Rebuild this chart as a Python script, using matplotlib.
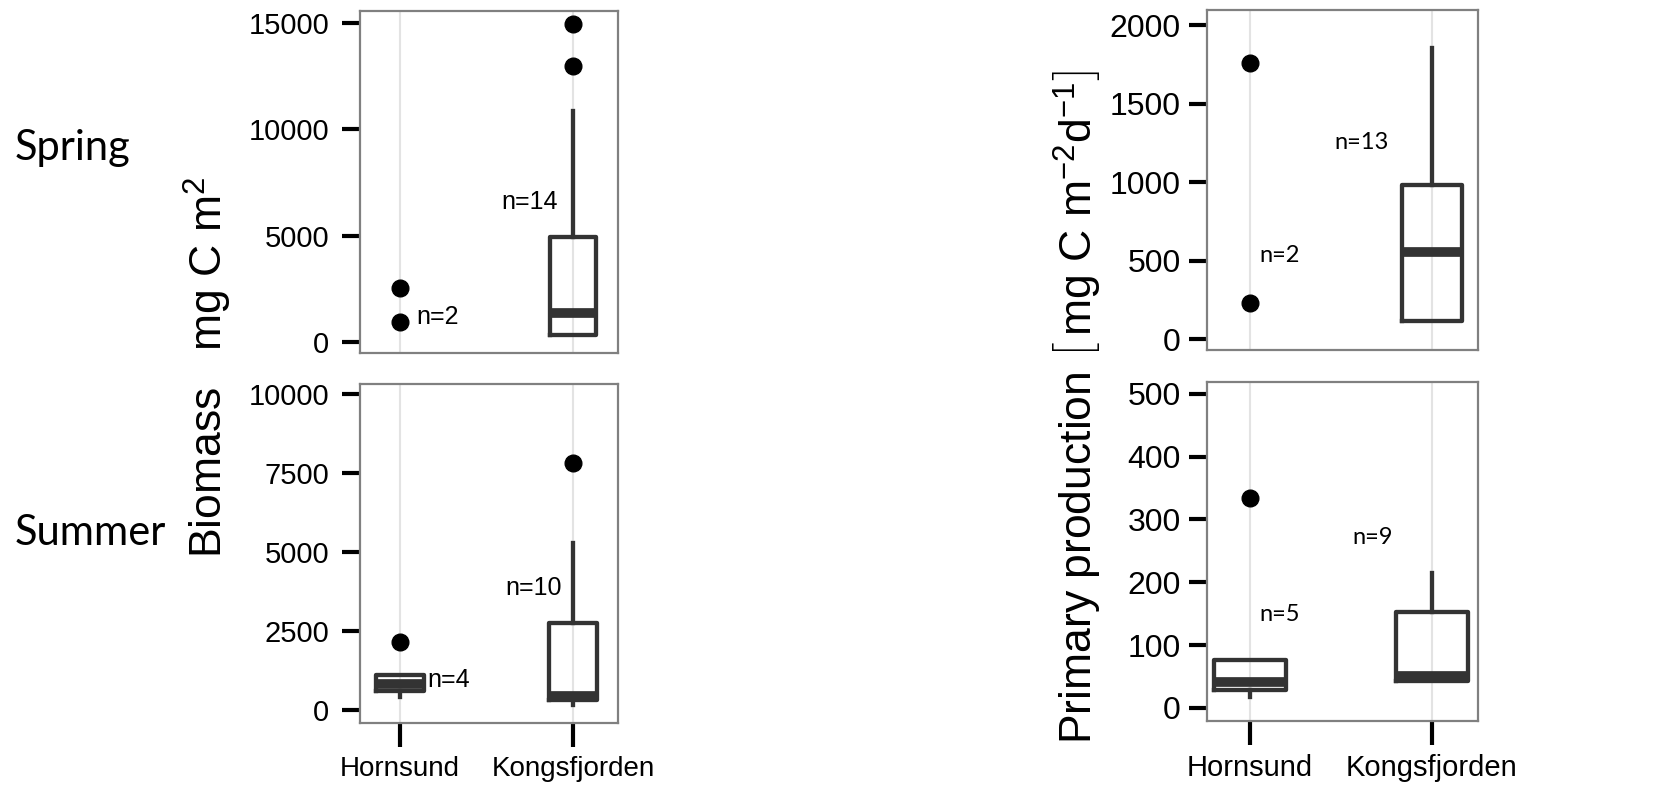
import matplotlib.pyplot as plt

plt.rcParams['font.family'] = ['Liberation Sans', 'DejaVu Sans']
plt.rcParams['mathtext.fontset'] = 'custom'
plt.rcParams['mathtext.rm'] = 'Liberation Sans'
plt.rcParams['mathtext.it'] = 'Liberation Sans:italic'

sites = ['Hornsund', 'Kongsfjorden']
positions = [1, 2]

# Biomass, spring (mg C m-2)
bio_spring_hornsund_pts = [2550, 940]
bio_spring_kong = dict(whislo=330, q1=330, med=1370, q3=4950, whishi=10850, fliers=[12970, 14950])
# Biomass, summer
bio_summer_hornsund = dict(whislo=410, q1=600, med=820, q3=1110, whishi=1110, fliers=[2150])
bio_summer_kong = dict(whislo=160, q1=320, med=440, q3=2750, whishi=5280, fliers=[7820])

# Primary production, spring (mg C m-2 d-1)
pp_spring_hornsund_pts = [1760, 230]
pp_spring_kong = dict(whislo=115, q1=115, med=554, q3=978, whishi=1853, fliers=[])
# Primary production, summer
pp_summer_hornsund = dict(whislo=17, q1=29, med=41, q3=76, whishi=76, fliers=[334])
pp_summer_kong = dict(whislo=43, q1=43, med=51, q3=153, whishi=215, fliers=[])

n_labels = {
    'bio_spring': [('n=2', 1.22, 1180), ('n=14', 1.75, 6560)],
    'bio_summer': [('n=4', 1.28, 950), ('n=10', 1.77, 3860)],
    'pp_spring': [('n=2', 1.165, 530), ('n=13', 1.615, 1255)],
    'pp_summer': [('n=5', 1.165, 148), ('n=9', 1.676, 272)],
}

box_col = '#333333'

fig = plt.figure(figsize=(16.68, 7.97), dpi=100)


def style_axis(ax, xlim, ylim, yticks, show_x, tick_fs, xtick_fs, pad):
    ax.set_xlim(*xlim)
    ax.set_ylim(*ylim)
    ax.set_yticks(yticks)
    ax.set_yticklabels([str(t) for t in yticks])
    ax.set_xticks(positions)
    for x in positions:
        ax.axvline(x, color='#e3e3e3', lw=1.5, zorder=0)
    for s in ax.spines.values():
        s.set_color('#808080')
        s.set_linewidth(1.6)
    ax.tick_params(axis='y', length=13, width=3, labelsize=tick_fs, pad=pad, color='black')
    if show_x:
        ax.set_xticklabels(sites)
        ax.tick_params(axis='x', length=17, width=3, labelsize=xtick_fs, pad=7)
    else:
        ax.tick_params(axis='x', length=0, labelbottom=False)


def draw_boxes(ax, stats, pos, width):
    ax.bxp(stats, positions=pos, widths=width, showcaps=False,
           boxprops=dict(color=box_col, lw=3.1),
           whiskerprops=dict(color=box_col, lw=3.1),
           medianprops=dict(color=box_col, lw=7, solid_capstyle='butt'),
           flierprops=dict(marker='o', markerfacecolor='black', markeredgecolor='black',
                           markersize=12, linestyle='none'),
           manage_ticks=False)


def draw_n(ax, key, font, fs):
    for txt, x, y in n_labels[key]:
        ax.text(x, y, txt, ha='center', va='center', fontsize=fs, family=font)


# Left top: biomass spring
ax1 = fig.add_axes([360 / 1668, 1 - 353 / 797, 258 / 1668, 342 / 797])
style_axis(ax1, (0.769, 2.26), (-519, 15566), [0, 5000, 10000, 15000], False, 21, 20, 9)
ax1.plot([1] * len(bio_spring_hornsund_pts), bio_spring_hornsund_pts, 'o', color='black', markersize=12)
draw_boxes(ax1, [bio_spring_kong], [2], 0.27)
draw_n(ax1, 'bio_spring', 'Liberation Sans', 18)

# Left bottom: biomass summer
ax2 = fig.add_axes([360 / 1668, 1 - 723 / 797, 258 / 1668, 339 / 797])
style_axis(ax2, (0.769, 2.26), (-411, 10316), [0, 2500, 5000, 7500, 10000], True, 21, 20, 9)
draw_boxes(ax2, [bio_summer_hornsund, bio_summer_kong], [1, 2], 0.28)
draw_n(ax2, 'bio_summer', 'Liberation Sans', 18)

# Right top: primary production spring
ax3 = fig.add_axes([1207 / 1668, 1 - 350 / 797, 271 / 1668, 340 / 797])
style_axis(ax3, (0.764, 2.253), (-70, 2096), [0, 500, 1000, 1500, 2000], False, 23, 21, 6)
ax3.plot([1] * len(pp_spring_hornsund_pts), pp_spring_hornsund_pts, 'o', color='black', markersize=12)
draw_boxes(ax3, [pp_spring_kong], [2], 0.33)
draw_n(ax3, 'pp_spring', 'Lato', 17)

# Right bottom: primary production summer
ax4 = fig.add_axes([1207 / 1668, 1 - 721 / 797, 271 / 1668, 339 / 797])
style_axis(ax4, (0.764, 2.253), (-21, 519), [0, 100, 200, 300, 400, 500], True, 23, 21, 6)
draw_boxes(ax4, [pp_summer_hornsund, pp_summer_kong], [1, 2], 0.40)
draw_n(ax4, 'pp_summer', 'Lato', 17)

# Labels
fig.text(15 / 1668, 1 - 148 / 797, 'Spring', fontsize=30, family='Lato', ha='left', va='center')
fig.text(15 / 1668, 1 - 533 / 797, 'Summer', fontsize=30, family='Lato', ha='left', va='center')
fig.text(208 / 1668, 1 - 367 / 797, 'Biomass   mg C m$^{2}$', rotation=90, fontsize=32,
         ha='center', va='center')
fig.text(1078 / 1668, 1 - 407 / 797,
         r'Primary production $\left[\,\mathrm{mg\ C\ m^{-2}d^{-1}}\right]$',
         rotation=90, fontsize=32, ha='center', va='center')

fig.savefig('out.png', dpi=100)
